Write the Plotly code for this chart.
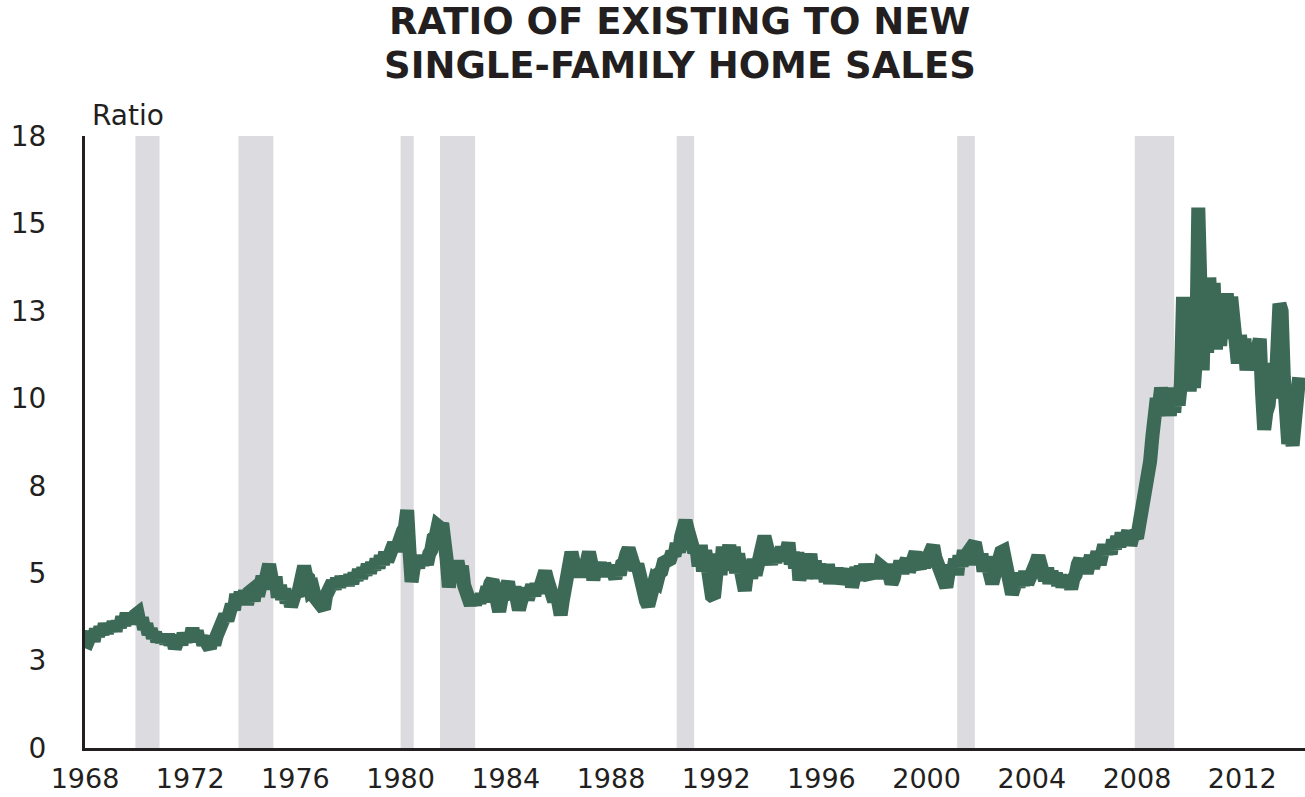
import pandas as pd
import plotly.graph_objects as go

# Ratio of existing to new single-family home sales, monthly, Jan 1968 onward
ratio_1968_1979 = [
    2.85, 3.1, 3.0, 3.3, 3.05, 3.4, 3.2, 3.45, 3.25, 3.55, 3.3, 3.5,
    3.35, 3.6, 3.35, 3.62, 3.45, 3.75, 3.5, 3.85, 3.55, 3.85, 3.6, 3.8,
    3.85, 3.55, 3.72, 3.4, 3.55, 3.25, 3.4, 3.15, 3.3, 3.05, 3.22, 3.05,
    3.2, 3.0, 3.25, 2.95, 3.15, 2.85, 3.1, 3.2, 2.95, 3.28, 3.05, 3.25,
    3.1, 3.42, 3.1, 3.35, 3.05, 3.2, 2.95, 3.15, 2.95, 2.85, 3.2, 2.95,
    3.2, 3.4, 3.55, 3.55, 3.8, 3.65, 3.95, 4.1, 3.95, 4.4, 4.15, 4.45,
    4.15, 4.5, 4.1, 4.45, 4.5, 4.2, 4.65, 4.35, 4.75, 4.9, 4.7, 5.1,
    5.25, 4.9, 4.55, 4.9, 4.3, 4.65, 4.25, 4.55, 4.15, 4.35, 4.05, 4.3,
    4.45, 4.35, 4.85, 5.15, 5.2, 4.9, 4.85, 4.5, 4.55, 4.3, 4.2, 4.1,
    4.05, 3.98, 4.35, 4.55, 4.45, 4.75, 4.55, 4.85, 4.6, 4.9, 4.65, 4.9,
    4.65, 4.95, 4.7, 5.0, 4.8, 5.1, 4.85, 5.15, 4.95, 5.25, 5.0, 5.3,
    5.1, 5.4, 5.15, 5.5, 5.25, 5.6, 5.35, 5.65, 5.5, 5.85, 5.65, 5.95,
]
ratio_1980s = [
    5.95, 6.2, 6.3, 6.8, 5.7, 4.75, 5.15, 5.4, 5.15, 5.5, 5.25, 5.45,
    5.25, 5.55, 5.65, 6.0, 6.05, 6.35, 6.3, 6.42, 6.1, 5.4, 4.6, 4.85,
    5.3, 5.05, 5.35, 5.0, 5.2, 4.65, 4.5, 4.25, 4.1, 4.3, 4.1, 4.35,
    4.15, 4.4, 4.2, 4.45, 4.45, 4.7, 4.8, 4.5, 4.1, 3.9, 4.25, 4.45,
    4.65, 4.75, 4.4, 4.3, 4.6, 4.15, 3.95, 4.2, 4.45, 4.55, 4.25, 4.6,
    4.65, 4.35, 4.7, 4.45, 4.8, 4.8, 5.05, 4.8, 4.65, 4.4, 4.2, 4.5,
    4.0, 3.8, 4.2, 4.55, 5.0, 5.25, 5.6, 5.3, 5.1, 5.25, 4.9, 5.15,
    5.0, 5.35, 5.6, 5.3, 4.8, 5.2, 5.05, 5.3, 4.9, 5.25, 5.0, 4.95,
    5.2, 4.95, 4.85, 5.2, 4.95, 5.25, 5.3, 5.55, 5.7, 5.5, 5.3, 5.1,
    5.25, 4.85, 4.7, 4.35, 4.2, 4.07, 4.35, 4.5, 4.8, 4.75, 5.0, 5.05,
]
ratio_1990s = [
    5.3, 5.35, 5.45, 5.4, 5.6, 5.5, 5.85, 5.6, 6.05, 6.25, 6.5, 6.25,
    6.05, 5.75, 5.6, 5.75, 5.2, 5.8, 5.05, 5.65, 4.8, 5.25, 4.35, 4.3,
    4.8, 5.55, 4.95, 5.75, 5.1, 5.65, 5.8, 5.25, 5.75, 5.0, 5.55, 5.15,
    4.7, 4.5, 4.95, 5.15, 4.85, 5.4, 4.95, 5.35, 5.55, 5.8, 6.05, 5.8,
    5.5, 5.25, 5.65, 5.3, 5.7, 5.35, 5.75, 5.45, 5.6, 5.87, 5.25, 5.6,
    5.15, 5.6, 4.8, 5.45, 5.5, 4.85, 5.35, 5.55, 4.95, 5.35, 4.85, 5.25,
    4.95, 5.2, 4.75, 5.25, 4.7, 5.1, 4.75, 5.15, 4.7, 4.95, 5.1, 4.75,
    4.9, 5.1, 4.6, 5.05, 5.15, 4.8, 5.2, 4.85, 5.25, 4.95, 4.85, 5.2,
    4.95, 5.25, 4.85, 5.2, 5.15, 4.9, 5.25, 4.95, 4.7, 4.85, 5.15, 5.0,
    5.35, 5.0, 5.25, 5.4, 5.05, 5.35, 5.5, 5.6, 5.25, 5.15, 5.4, 5.2,
]
ratio_2000s = [
    5.35, 5.45, 5.65, 5.78, 5.45, 5.3, 5.2, 4.85, 4.7, 4.6, 5.0, 5.2,
    5.05, 5.4, 4.95, 5.5, 5.2, 5.65, 5.25, 5.6, 5.7, 5.8, 5.87, 5.55,
    5.25, 5.55, 5.05, 5.45, 4.95, 4.8, 4.7, 4.95, 5.25, 5.4, 5.6, 5.63,
    5.3, 4.95, 4.7, 4.4, 4.6, 4.9, 4.6, 5.0, 4.65, 5.05, 4.7, 4.95,
    5.0, 5.2, 5.3, 5.49, 5.25, 4.95, 4.8, 5.15, 4.7, 5.05, 4.75, 5.0,
    4.65, 4.95, 4.6, 4.9, 4.6, 4.8, 4.55, 4.85, 4.95, 5.25, 5.4, 5.1,
    5.25, 5.0, 5.4, 5.5, 5.15, 5.45, 5.6, 5.25, 5.6, 5.8, 5.55, 5.8,
    5.55, 5.95, 5.7, 6.05, 5.75, 6.15, 5.85, 6.0, 6.2, 5.8, 6.05, 6.1,
    6.0, 6.3, 6.6, 7.0, 7.3, 7.6, 8.2, 8.9, 9.5, 10.0, 9.8, 10.3,
    10.0, 9.5, 10.2, 9.5, 10.3, 9.6, 10.3, 9.8, 10.4, 12.9, 10.6, 11.4,
]
ratio_2010s = [
    10.2, 11.0, 10.3, 11.2, 15.45, 11.5, 10.8, 13.1, 11.3, 13.45, 12.0, 13.3,
    11.4, 12.8, 11.5, 12.5, 11.7, 13.0, 11.8, 12.9, 11.7, 12.1, 11.0, 11.8,
    11.2, 11.7, 10.8, 11.5, 10.9, 11.4, 10.8, 11.4, 11.7, 10.2, 9.1, 9.6,
    9.8, 10.6, 11.0, 10.0, 11.6, 12.7, 12.5, 10.6, 9.6, 8.7, 9.0, 8.65,
    9.6, 10.4, 10.6,
]

ratio = ratio_1968_1979 + ratio_1980s + ratio_1990s + ratio_2000s + ratio_2010s
months = pd.date_range("1968-01-01", periods=len(ratio), freq="MS")

# Recession periods (shaded)
recession_start = ["1969-12-01", "1973-11-01", "1980-01-01", "1981-07-01",
                   "1990-07-01", "2001-03-01", "2007-12-01"]
recession_end = ["1970-11-01", "1975-03-01", "1980-07-01", "1982-11-01",
                 "1991-03-01", "2001-11-01", "2009-06-01"]

# Axis ticks
y_tickvals = [0, 2.5, 5, 7.5, 10, 12.5, 15, 17.5]
y_ticktext = ["0", "3", "5", "8", "10", "13", "15", "18"]

INK = "#231f20"
LINE_GREEN = "#3d6a57"
SHADE = "#dcdce0"

fig = go.Figure()

fig.add_trace(go.Scatter(
    x=months, y=ratio, mode="lines",
    line=dict(color=LINE_GREEN, width=14),
    hoverinfo="skip", showlegend=False,
))

for s, e in zip(recession_start, recession_end):
    fig.add_shape(type="rect", xref="x", yref="paper", x0=s, x1=e, y0=0, y1=1,
                  fillcolor=SHADE, line=dict(width=0), layer="below")

title_font = dict(family="DejaVu Sans", size=37, color=INK, weight="bold")

fig.update_layout(
    width=1305, height=797,
    margin=dict(l=85, r=0, t=136, b=49),
    paper_bgcolor="white", plot_bgcolor="white",
    font=dict(family="DejaVu Sans", color=INK),
    xaxis=dict(
        type="date", range=["1968-01-01", "2014-05-22"],
        tick0="1968-01-01", dtick="M48", tickformat="%Y",
        showgrid=False, zeroline=False, ticks="",
        showline=True, linecolor=INK, linewidth=3,
        tickfont=dict(family="DejaVu Sans", size=27, color=INK),
        ticklabelstandoff=5, automargin=False,
    ),
    yaxis=dict(
        range=[0, 17.5], tickmode="array",
        tickvals=y_tickvals, ticktext=y_ticktext,
        showgrid=False, zeroline=False, ticks="",
        showline=True, linecolor=INK, linewidth=3,
        tickfont=dict(family="DejaVu Sans", size=28, color=INK),
        ticklabelstandoff=30, automargin=False,
    ),
    annotations=[
        dict(text="RATIO OF EXISTING TO NEW", xref="paper", yref="paper",
             x=0.4877, y=1.1863, xanchor="center", yanchor="middle",
             showarrow=False, font=title_font),
        dict(text="SINGLE-FAMILY HOME SALES", xref="paper", yref="paper",
             x=0.4877, y=1.1144, xanchor="center", yanchor="middle",
             showarrow=False, font=title_font),
        dict(text="Ratio", xref="paper", yref="paper",
             x=0.004, y=1.0343, xanchor="left", yanchor="middle", showarrow=False,
             font=dict(family="DejaVu Sans", size=28, color=INK)),
    ],
)

fig.write_html("out.html")
